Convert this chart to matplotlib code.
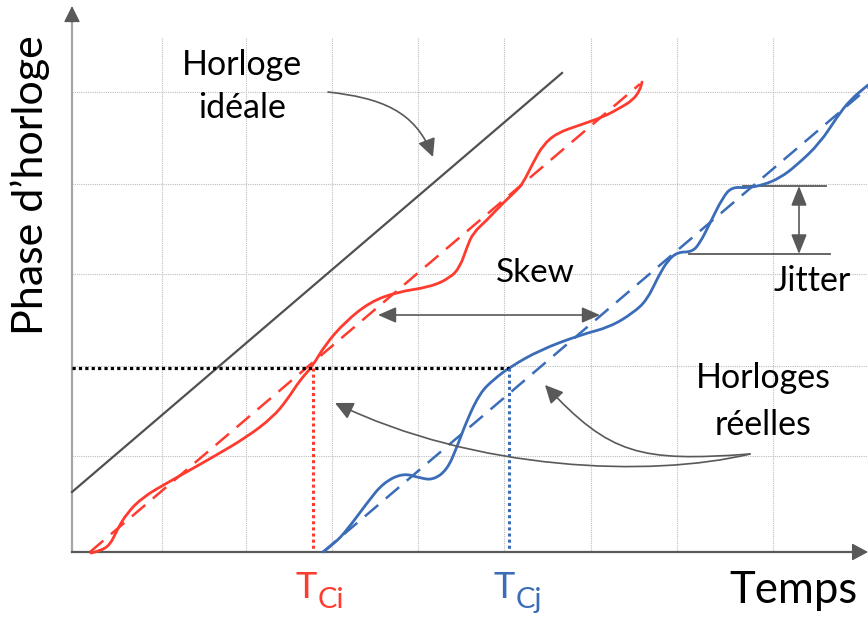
import matplotlib
matplotlib.use("Agg")
import matplotlib.pyplot as plt
from matplotlib.path import Path
from matplotlib.patches import FancyArrowPatch, PathPatch

plt.rcParams['font.family'] = ['Lato', 'DejaVu Sans']

# ---------------- data (drawing units: time to the right, phase downward) ----
grid_times = [162, 246, 332, 418, 504, 591, 677, 773]
grid_phases = [92, 184, 274, 366, 456]

ideal_t = [72, 562]
ideal_p = [492, 73]

red_t = [91, 100, 110, 117, 127, 143, 167, 190, 213, 247, 273, 287, 300, 312,
         325, 345, 370, 397, 430, 450, 460, 467, 473, 487, 503, 517, 523, 533,
         543, 557, 580, 603, 620, 633, 640, 642]
red_p = [553, 551, 545, 530, 513, 497, 483, 470, 457, 437, 417, 400, 380, 367,
         345, 322, 302, 292, 287, 278, 267, 247, 233, 220, 203, 190, 183, 163,
         145, 133, 125, 117, 108, 100, 90, 82]
red_trend_t = [90, 640]
red_trend_p = [552, 84]

blue_t = [323, 335, 347, 367, 383, 403, 420, 433, 447, 457, 467, 480, 493, 510,
          540, 580, 610, 633, 647, 658, 668, 678, 692, 700, 710, 723, 732, 747,
          763, 780, 797, 820, 837, 850, 868]
blue_p = [552, 543, 530, 503, 483, 473, 478, 480, 470, 447, 420, 393, 380, 367,
          350, 335, 327, 313, 300, 277, 260, 252, 252, 243, 223, 197, 187, 188,
          185, 178, 165, 143, 117, 100, 85]
blue_trend_t = [323, 868]
blue_trend_p = [552, 88]

t_ci = 313
t_cj = 509
phase_ref = 368

skew_t = [378, 600]
skew_p = 315
jitter_p = [186, 254]
jitter_t = 799

# ---------------- styling ----------------
RED = '#FF3B2F'
BLUE = '#3A6CB7'
DARK = '#595959'
GRID = '#bdbdbd'

x0, y0 = 72, 552

fig = plt.figure(figsize=(8.68, 6.17), dpi=100)
ax = fig.add_axes([0, 0, 1, 1])
ax.set_xlim(0, 868)
ax.set_ylim(617, 0)
ax.axis('off')

# grid
for gx in grid_times:
    ax.plot([gx, gx], [38, y0], color=GRID, lw=0.8, ls=(0, (1, 1)), zorder=1)
for gy in grid_phases:
    ax.plot([x0, 868], [gy, gy], color=GRID, lw=0.8, ls=(0, (1, 1)), zorder=1)

# axes
ax.plot([x0, x0], [y0, 18], color='#a6a6a6', lw=1.6, zorder=2)
ax.annotate('', xy=(x0, 6), xytext=(x0, 22),
            arrowprops=dict(arrowstyle='-|>,head_length=0.5,head_width=0.25',
                            color=DARK, lw=1, shrinkA=0, shrinkB=0, mutation_scale=20))
ax.plot([x0, 858], [y0, y0], color=DARK, lw=1.6, zorder=2)
ax.annotate('', xy=(868, y0), xytext=(850, y0),
            arrowprops=dict(arrowstyle='-|>,head_length=0.5,head_width=0.27',
                            color=DARK, lw=1, shrinkA=0, shrinkB=0, mutation_scale=20))

# ideal clock
ax.plot(ideal_t, ideal_p, color='#505050', lw=1.6, zorder=3)


def smooth_line(xs, ys, color, lw):
    verts = [(xs[0], ys[0])]
    codes = [Path.MOVETO]
    for i in range(1, len(xs) - 1):
        verts += [(xs[i], ys[i]), ((xs[i] + xs[i + 1]) / 2, (ys[i] + ys[i + 1]) / 2)]
        codes += [Path.CURVE3, Path.CURVE3]
    verts.append((xs[-1], ys[-1]))
    codes.append(Path.LINETO)
    ax.add_patch(PathPatch(Path(verts, codes), fill=False, edgecolor=color,
                           lw=lw, zorder=4, joinstyle='round', capstyle='round'))


# real clocks
ax.plot(red_trend_t, red_trend_p, color=RED, lw=1.8, ls=(0, (7, 4)), zorder=3)
smooth_line(red_t, red_p, RED, 2.0)
ax.plot(blue_trend_t, blue_trend_p, color=BLUE, lw=1.8, ls=(0, (7, 4)), zorder=3)
smooth_line(blue_t, blue_p, BLUE, 2.0)

# reference phase and times
ax.plot([x0, t_cj], [phase_ref, phase_ref], color='black', lw=2.3, ls=(0, (1, 1)), zorder=5)
ax.plot([t_ci, t_ci], [phase_ref, y0 - 3], color=RED, lw=2.2, ls=(0, (1, 1)), zorder=5)
ax.plot([t_cj, t_cj], [phase_ref, y0 - 3], color=BLUE, lw=2.2, ls=(0, (1, 1)), zorder=5)

# skew arrow
ax.annotate('', xy=(skew_t[1], skew_p), xytext=(skew_t[0], skew_p),
            arrowprops=dict(arrowstyle='<|-|>,head_length=0.55,head_width=0.24',
                            color=DARK, lw=1.2, shrinkA=0, shrinkB=0, mutation_scale=20))
# jitter
ax.plot([743, 826], [jitter_p[0], jitter_p[0]], color=DARK, lw=1.3)
ax.plot([689, 830], [jitter_p[1], jitter_p[1]], color=DARK, lw=1.3)
ax.annotate('', xy=(jitter_t, jitter_p[1]), xytext=(jitter_t, jitter_p[0]),
            arrowprops=dict(arrowstyle='<|-|>,head_length=0.6,head_width=0.24',
                            color=DARK, lw=1.2, shrinkA=0, shrinkB=0, mutation_scale=20))


def curved_arrow(pts):
    path = Path(pts, [Path.MOVETO, Path.CURVE4, Path.CURVE4, Path.CURVE4])
    arr = FancyArrowPatch(path=path, arrowstyle='-|>,head_length=0.55,head_width=0.27',
                          color=DARK, lw=1.2, mutation_scale=20,
                          transform=ax.transData, zorder=6)
    ax.add_patch(arr)


curved_arrow([(328, 92), (380, 98), (415, 110), (433, 157)])
curved_arrow([(750, 454), (640, 462), (610, 455), (545, 385)])
curved_arrow([(750, 454), (650, 478), (475, 471), (335, 403)])

# texts
ax.text(43, 185, 'Phase d\u2019horloge', rotation=90, rotation_mode='anchor',
        ha='center', va='baseline', fontsize=31, color='black')
ax.text(242, 75, 'Horloge', ha='center', va='baseline', fontsize=24.5)
ax.text(242, 118, 'idéale', ha='center', va='baseline', fontsize=24.5)
ax.text(535, 282, 'Skew', ha='center', va='baseline', fontsize=24)
ax.text(812, 291, 'Jitter', ha='center', va='baseline', fontsize=24.5)
ax.text(763, 388, 'Horloges', ha='center', va='baseline', fontsize=24.5)
ax.text(763, 435, 'réelles', ha='center', va='baseline', fontsize=24.5)
ax.text(793, 603, 'Temps', ha='center', va='baseline', fontsize=31.5)
ax.text(295, 598, 'T', ha='left', va='baseline', fontsize=26, color=RED)
ax.text(318, 608, 'Ci', ha='left', va='baseline', fontsize=21, color=RED)
ax.text(493, 598, 'T', ha='left', va='baseline', fontsize=26, color=BLUE)
ax.text(516, 608, 'Cj', ha='left', va='baseline', fontsize=21, color=BLUE)

fig.savefig('out.png', dpi=100)
